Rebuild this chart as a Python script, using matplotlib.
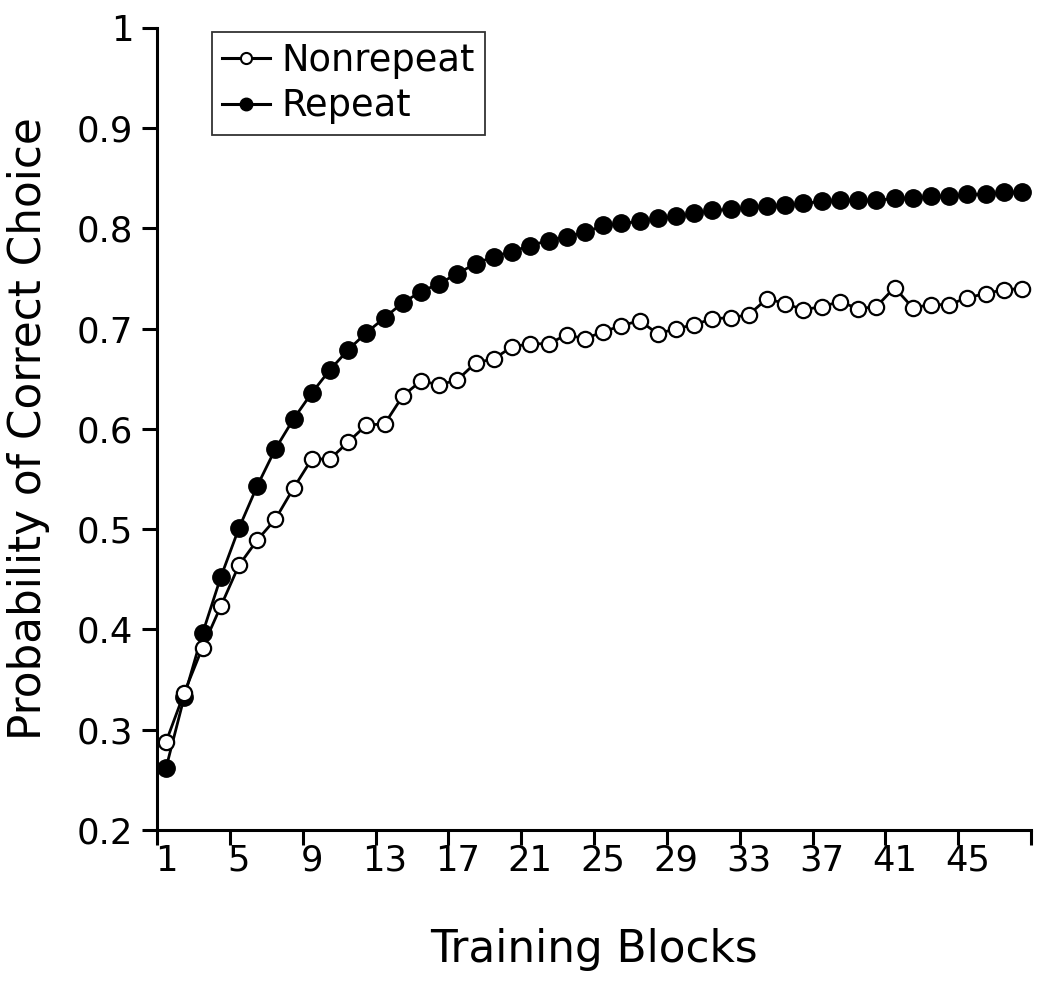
import numpy as np
import matplotlib.pyplot as plt
from matplotlib.lines import Line2D

# Probability of correct choice per training block
blocks = list(range(1, 49))
nonrepeat = [0.288, 0.337, 0.382, 0.423, 0.464, 0.489, 0.510, 0.541, 0.570, 0.570,
             0.587, 0.604, 0.605, 0.633, 0.648, 0.644, 0.649, 0.666, 0.670, 0.682,
             0.685, 0.685, 0.694, 0.690, 0.697, 0.703, 0.708, 0.695, 0.700, 0.704,
             0.710, 0.711, 0.714, 0.730, 0.725, 0.719, 0.722, 0.727, 0.720, 0.722,
             0.741, 0.721, 0.724, 0.724, 0.731, 0.735, 0.739, 0.740]
repeat = [0.262, 0.333, 0.396, 0.452, 0.501, 0.543, 0.580, 0.610, 0.636, 0.659,
          0.679, 0.696, 0.711, 0.726, 0.737, 0.745, 0.755, 0.765, 0.772, 0.777,
          0.783, 0.788, 0.792, 0.796, 0.803, 0.805, 0.807, 0.810, 0.812, 0.815,
          0.818, 0.819, 0.821, 0.822, 0.823, 0.825, 0.827, 0.828, 0.828, 0.828,
          0.830, 0.830, 0.832, 0.832, 0.834, 0.834, 0.836, 0.836]

xtick_labels = [str(b) for b in range(1, 49, 4)]
ytick_vals = [0.2, 0.3, 0.4, 0.5, 0.6, 0.7, 0.8, 0.9, 1.0]
ytick_labels = ['0.2', '0.3', '0.4', '0.5', '0.6', '0.7', '0.8', '0.9', '1']

plt.rcParams['font.family'] = ['DejaVu Sans']

fig = plt.figure(figsize=(10.5, 9.96), dpi=100)
ax = fig.add_axes([0.1495, 0.1667, 0.8325, 0.8052])

ax.plot(blocks, nonrepeat, color='black', lw=2.0, marker='o', ms=11,
        mfc='white', mec='black', mew=1.6, zorder=3)
ax.plot(blocks, repeat, color='black', lw=2.0, marker='o', ms=12.5,
        mfc='black', mec='black', zorder=2)

ax.set_xlim(0.5, 48.5)
ax.set_ylim(0.2, 1.0)

# Excel-style category axis: ticks between categories, labels on categories
ax.set_xticks(np.arange(0.5, 49, 4))
ax.set_xticklabels([])
ax.set_xticks(range(1, 49, 4), minor=True)
ax.set_xticklabels(xtick_labels, minor=True, fontsize=25.5)
ax.tick_params(axis='x', which='major', direction='out', length=11, width=2.2)
ax.tick_params(axis='x', which='minor', length=0, pad=10)

ax.set_yticks(ytick_vals)
ax.set_yticklabels(ytick_labels, fontsize=25.5)
ax.tick_params(axis='y', direction='out', length=11, width=2.2, pad=6)

for s in ['top', 'right']:
    ax.spines[s].set_visible(False)
for s in ['left', 'bottom']:
    ax.spines[s].set_linewidth(2.2)

ax.set_xlabel('Training Blocks', fontsize=31.5, labelpad=36)
ax.set_ylabel('Probability of Correct Choice', fontsize=31.5, labelpad=19)

handles = [
    Line2D([], [], color='black', lw=2.2, marker='o', ms=8, mfc='white', mec='black', mew=1.5),
    Line2D([], [], color='black', lw=2.2, marker='o', ms=9, mfc='black', mec='black'),
]
leg = ax.legend(handles, ['Nonrepeat', 'Repeat'], loc='upper left',
                bbox_to_anchor=(0.063, 0.995), borderaxespad=0, fontsize=26.5,
                frameon=True, fancybox=False, handlelength=1.3, handletextpad=0.3,
                labelspacing=0.22, borderpad=0.28)
leg.get_frame().set_edgecolor('black')
leg.get_frame().set_linewidth(1.3)

plt.savefig('out.png', dpi=100)
